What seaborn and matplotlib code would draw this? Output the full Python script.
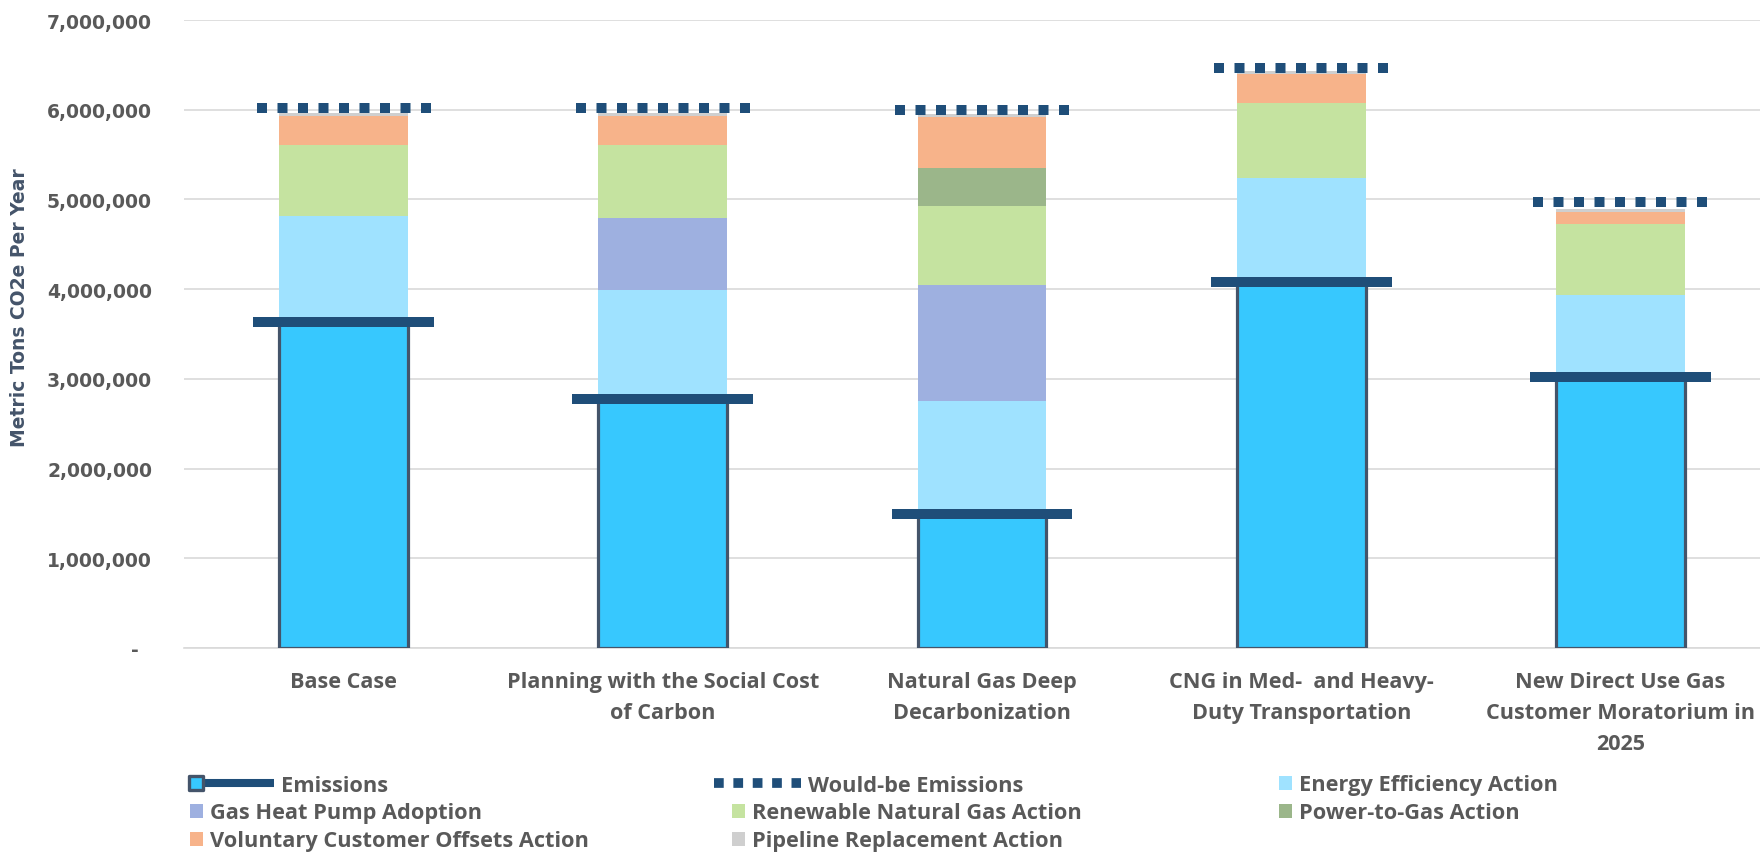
import numpy as np
import pandas as pd
import matplotlib
matplotlib.use("Agg")
import matplotlib.pyplot as plt
import seaborn as sns
from matplotlib.lines import Line2D
from matplotlib.patches import Patch
from matplotlib.markers import MarkerStyle
from matplotlib.legend_handler import HandlerBase
from matplotlib.ticker import FuncFormatter, MultipleLocator
from matplotlib.font_manager import FontProperties

# ---------------- data (metric tons CO2e per year) ----------------
categories = [
    "Base Case",
    "Planning with the Social Cost\nof Carbon",
    "Natural Gas Deep\nDecarbonization",
    "CNG in Med-  and Heavy-\nDuty Transportation",
    "New Direct Use Gas\nCustomer Moratorium in\n2025",
]
emissions = [3630000, 2770000, 1490000, 4080000, 3020000]
energy_efficiency = [1190000, 1220000, 1260000, 1160000, 920000]
gas_heat_pump = [0, 800000, 1300000, 0, 0]
renewable_natural_gas = [790000, 820000, 880000, 840000, 790000]
power_to_gas = [0, 0, 420000, 0, 0]
voluntary_offsets = [320000, 320000, 570000, 320000, 130000]
pipeline_replacement = [30000, 30000, 30000, 30000, 30000]
would_be = [6020000, 6020000, 6000000, 6470000, 4970000]

series_labels = [
    "Energy Efficiency Action",
    "Gas Heat Pump Adoption",
    "Renewable Natural Gas Action",
    "Power-to-Gas Action",
    "Voluntary Customer Offsets Action",
    "Pipeline Replacement Action",
]
series_values = [energy_efficiency, gas_heat_pump, renewable_natural_gas,
                 power_to_gas, voluntary_offsets, pipeline_replacement]
series_colors = ["#9FE2FF", "#9EB0E0", "#C5E3A0", "#9BB68A", "#F7B38A", "#CFCFCF"]

EMIS_FILL = "#37C8FE"
EMIS_EDGE = "#44546A"
NAVY = "#1F4E79"
TEXT_GRAY = "#595959"

# ---------------- style ----------------
sns.set_theme(style="white")
plt.rcParams["font.family"] = ["DejaVu Sans"]

W, H = 1760, 853
fig = plt.figure(figsize=(W / 100, H / 100), dpi=100)
ax = fig.add_axes([184 / W, 1 - 649 / H, 1596 / W, 628 / H])

df = pd.DataFrame({"Scenario": categories, "Emissions": emissions})
for lab, vals in zip(series_labels, series_values):
    df[lab] = vals

bar_w = 0.404
sns.barplot(data=df, x="Scenario", y="Emissions", order=categories,
            color=EMIS_FILL, saturation=1, errorbar=None, width=bar_w,
            edgecolor=EMIS_EDGE, linewidth=2.3, ax=ax, zorder=3)

bottom = np.array(emissions, dtype=float)
for lab, col in zip(series_labels, series_colors):
    sns.barplot(data=df, x="Scenario", y=lab, order=categories, bottom=bottom,
                color=col, saturation=1, errorbar=None, width=bar_w,
                linewidth=0, ax=ax, zorder=3)
    bottom = bottom + df[lab].to_numpy()

# emissions markers (thick line) and would-be emissions (square dots)
for i, (e, w) in enumerate(zip(emissions, would_be)):
    ax.plot([i - 0.283, i + 0.283], [e, e], color=NAVY, lw=7.2,
            solid_capstyle="butt", zorder=6)
    ax.plot([i - 0.2725, i + 0.2725], [w, w], color=NAVY, lw=7.2,
            dashes=(1.0, 1.05), dash_capstyle="butt", zorder=6)

# ---------------- axes ----------------
ax.set_xlim(-0.5, 4.5)
ax.set_ylim(0, 7000000)
ax.yaxis.set_major_locator(MultipleLocator(1000000))
ax.yaxis.set_major_formatter(FuncFormatter(lambda v, p: "-  " if v == 0 else f"{v:,.0f}"))
ax.grid(axis="y", color="#D9D9D9", lw=1.2, zorder=0)
ax.set_axisbelow(True)
for s in ["top", "right", "left"]:
    ax.spines[s].set_visible(False)
ax.spines["bottom"].set_color("#D9D9D9")
ax.spines["bottom"].set_linewidth(1.2)

ax.tick_params(axis="y", length=0, pad=23, labelsize=13.5, labelcolor=TEXT_GRAY)
for t in ax.get_yticklabels():
    t.set_fontweight("bold")

cat_font = FontProperties(family=["Open Sans", "DejaVu Sans"], weight="bold", size=15.6)
ax.set_xticks(range(len(categories)))
ax.set_xticklabels(categories, fontproperties=cat_font, color=TEXT_GRAY, linespacing=1.62)
ax.tick_params(axis="x", length=0, pad=16.5)
ax.set_xlabel("")

ax.set_ylabel("Metric Tons CO2e Per Year", fontsize=13.5, fontweight="bold", color="#44546A")
ax.yaxis.set_label_coords(-0.0971, 0.543)

# ---------------- legend (Excel-style free layout) ----------------
leg_font = FontProperties(family=["Open Sans", "DejaVu Sans"], weight="bold", size=15.7)


class EmissionsHandler(HandlerBase):
    def create_artists(self, legend, orig_handle, xdescent, ydescent,
                       width, height, fontsize, trans):
        y = height / 2 - ydescent
        x0 = -xdescent
        line = Line2D([x0 + 6, x0 + width], [y, y], color=NAVY, lw=5.8,
                      solid_capstyle="butt", transform=trans)
        mk = Line2D([x0 + 6.4], [y], marker=MarkerStyle("s", joinstyle="round"),
                    markersize=10.6, markerfacecolor=EMIS_FILL,
                    markeredgecolor=EMIS_EDGE, markeredgewidth=2.4,
                    linestyle="none", transform=trans)
        return [line, mk]


class WouldBeHandler(HandlerBase):
    def create_artists(self, legend, orig_handle, xdescent, ydescent,
                       width, height, fontsize, trans):
        y = height / 2 - ydescent
        x0 = -xdescent
        lw = 7.0
        n_sq = 5
        gap = (width - n_sq * lw) / (n_sq - 1)
        line = Line2D([x0, x0 + width - 0.5], [y, y], color=NAVY, lw=lw,
                      dashes=(1.0, gap / lw), dash_capstyle="butt",
                      transform=trans)
        return [line]


emis_handle = Line2D([0], [0], color=NAVY, lw=5.8)
would_handle = Line2D([0], [0], color=NAVY, lw=7.0)
patch_handles = {lab: Patch(facecolor=col, edgecolor="none")
                 for lab, col in zip(series_labels, series_colors)}

entries = [
    (emis_handle, "Emissions", 187, 786, 4.0),
    (would_handle, "Would-be Emissions", 714, 786, 4.0),
    (patch_handles["Energy Efficiency Action"], "Energy Efficiency Action", 1279, 786, 0.6),
    (patch_handles["Gas Heat Pump Adoption"], "Gas Heat Pump Adoption", 190, 814, 0.6),
    (patch_handles["Renewable Natural Gas Action"], "Renewable Natural Gas Action", 732, 814, 0.6),
    (patch_handles["Power-to-Gas Action"], "Power-to-Gas Action", 1279, 814, 0.6),
    (patch_handles["Voluntary Customer Offsets Action"], "Voluntary Customer Offsets Action", 190, 842, 0.6),
    (patch_handles["Pipeline Replacement Action"], "Pipeline Replacement Action", 732, 842, 0.6),
]
for h, lab, xp, yp, hl in entries:
    fig.legend(handles=[h], labels=[lab], loc="center left",
               bbox_to_anchor=(xp / W, 1 - yp / H), frameon=False,
               handlelength=hl, handleheight=0.65, handletextpad=0.3,
               borderpad=0, borderaxespad=0,
               handler_map={emis_handle: EmissionsHandler(),
                            would_handle: WouldBeHandler()},
               prop=leg_font, labelcolor=TEXT_GRAY)

fig.savefig("out.png", dpi=100)
